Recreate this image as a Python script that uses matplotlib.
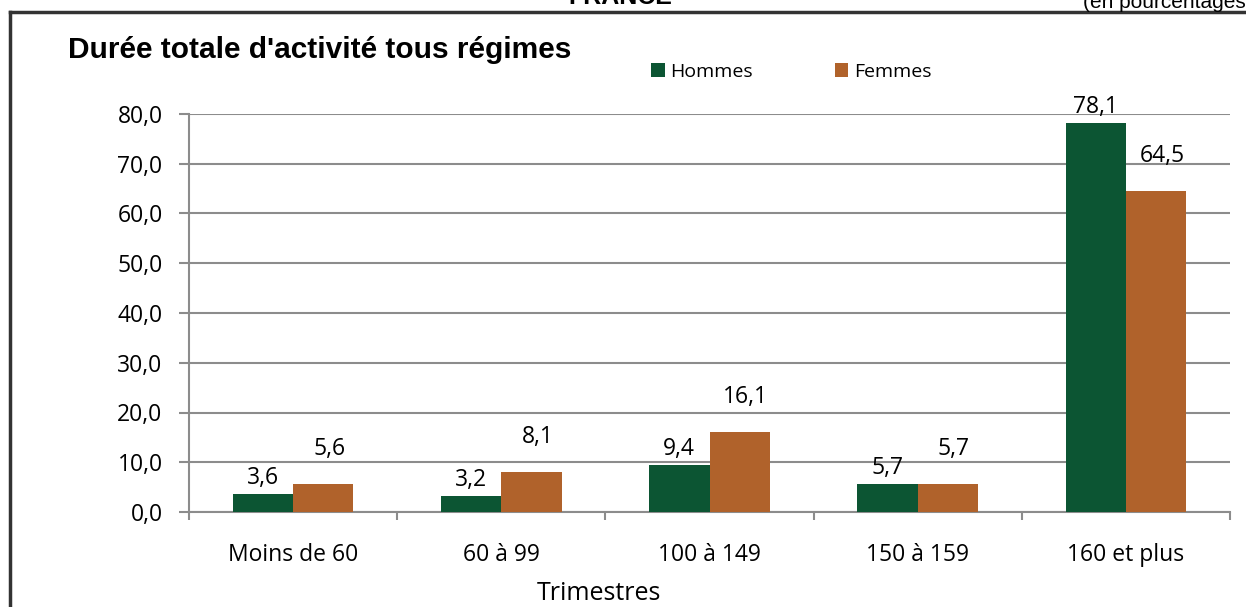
import matplotlib
matplotlib.use("Agg")
import matplotlib.pyplot as plt
import numpy as np
from matplotlib.patches import Patch
from matplotlib.lines import Line2D

categories = ["Moins de 60", "60 à 99", "100 à 149", "150 à 159", "160 et plus"]
hommes = [3.6, 3.2, 9.4, 5.7, 78.1]
femmes = [5.6, 8.1, 16.1, 5.7, 64.5]
series_names = ["Hommes", "Femmes"]
yticks = [0, 10, 20, 30, 40, 50, 60, 70, 80]

GREEN = "#0c5533"
BROWN = "#b0622b"
W, H = 1246, 607

fig = plt.figure(figsize=(W / 100, H / 100), dpi=100)
fig.patch.set_facecolor("white")

sans = "Open Sans"
ax = fig.add_axes([189 / W, 1 - 512 / H, (1230 - 189) / W, (512 - 114) / H])
x = np.arange(len(categories))
bw = 0.29
b1 = ax.bar(x - bw / 2, hommes, bw, color=GREEN, zorder=3, label=series_names[0])
b2 = ax.bar(x + bw / 2, femmes, bw, color=BROWN, zorder=3, label=series_names[1])

def fmt(v):
    return f"{v:.1f}".replace(".", ",")

for rect, v in zip(b1, hommes):
    ax.annotate(fmt(v), (rect.get_x() + rect.get_width() / 2, v), xytext=(0, 16),
                textcoords="offset pixels", ha="center", va="center",
                fontsize=16.5, family=sans, color="black")
for rect, v in zip(b2, femmes):
    ax.annotate(fmt(v), (rect.get_x() + rect.get_width() / 2, v), xytext=(6, 35),
                textcoords="offset pixels", ha="center", va="center",
                fontsize=16.5, family=sans, color="black")

ax.set_xlim(-0.5, len(categories) - 0.5)
ax.set_ylim(0, 80)
ax.set_yticks(yticks)
ax.set_yticklabels([fmt(v) for v in yticks], fontsize=16.5, family=sans)
ax.yaxis.grid(True, color="#8c8c8c", linewidth=1.5, zorder=0)
ax.set_axisbelow(True)

ax.set_xticks(x)
ax.set_xticklabels(categories, fontsize=16.5, family=sans)
ax.set_xticks(np.arange(len(categories) + 1) - 0.5, minor=True)
ax.tick_params(axis="x", which="major", length=0, pad=22)
ax.tick_params(axis="x", which="minor", length=6, width=1.5, color="#8c8c8c", direction="out")
ax.tick_params(axis="y", length=7, width=1.5, color="#8c8c8c", pad=12)

for s in ["top", "right"]:
    ax.spines[s].set_visible(False)
for s in ["left", "bottom"]:
    ax.spines[s].set_color("#8c8c8c")
    ax.spines[s].set_linewidth(1.5)

ax.set_xlabel("Trimestres", fontsize=18, family=sans)
ax.xaxis.set_label_coords((599 - 189) / (1230 - 189), -(593 - 512) / (512 - 114))
ax.xaxis.label.set_va("center")

# Title
fig.text(68 / W, 1 - 50 / H, "Durée totale d'activité tous régimes", fontsize=21.5,
         fontweight="bold", family="Liberation Sans", va="center", ha="left")

# Legend
handles = [Patch(facecolor=GREEN, edgecolor="none"), Patch(facecolor=BROWN, edgecolor="none")]
leg = fig.legend(handles, series_names, loc="center left",
                 bbox_to_anchor=(651 / W, 1 - 72 / H), ncol=2, frameon=False,
                 prop={"family": sans, "size": 14}, handlelength=0.7, handleheight=0.7,
                 handletextpad=0.3, columnspacing=4.2, borderaxespad=0, borderpad=0)

# Page elements (cut off at top)
fig.text(620 / W, 1 - (-3) / H, "FRANCE", fontsize=18, fontweight="bold",
         family="Liberation Sans", ha="center", va="center")
fig.text(1083 / W, 1 - 3 / H, "(en pourcentages)", fontsize=15,
         family="Liberation Sans", ha="left", va="center")

# Frame
fig.add_artist(Line2D([10 / W, 1.0], [1 - 12 / H, 1 - 12 / H], color="#333333", linewidth=2.5,
                      transform=fig.transFigure))
fig.add_artist(Line2D([10 / W, 10 / W], [0, 1 - 12 / H], color="#333333", linewidth=2.5,
                      transform=fig.transFigure))

fig.savefig("out.png", dpi=100)
